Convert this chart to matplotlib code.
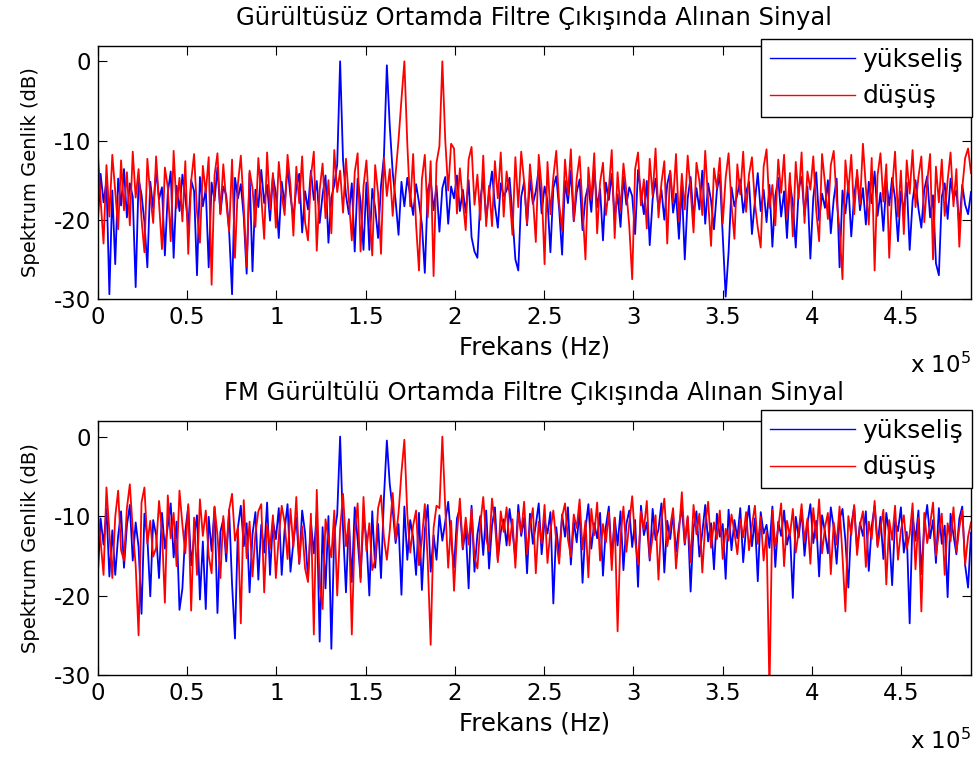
import numpy as np
import matplotlib
matplotlib.use("Agg")
import matplotlib.pyplot as plt
from matplotlib.ticker import FuncFormatter, FixedLocator

plt.rcParams["font.family"] = ["DejaVu Sans"]
plt.rcParams["axes.unicode_minus"] = False
plt.rcParams["mathtext.fontset"] = "dejavusans"

# Frequency span of the spectra (Hz)
F_MAX_HZ = 4.89e5

# Spectrum magnitude (dB), noiseless channel, rising chirp
quiet_rise = [
    -20.5, -14.2, -17.8, -15.1, -29.4, -16.3, -25.6, -14.8, -18.2, -13.6, -19.7, -15.4, -17.1, -28.5, -14.9, -16.8, -20.3, -26.0, -15.2, -18.6,
    -13.8, -17.4, -15.9, -24.5, -16.6, -13.9, -24.8, -15.7, -18.9, -14.3, -17.2, -20.8, -15.0, -16.4, -27.0, -14.6, -18.3, -16.1, -26.0, -15.3,
    -17.6, -13.4, -19.2, -15.8, -16.9, -21.4, -29.4, -14.7, -17.3, -15.5, -19.6, -26.8, -14.1, -26.5, -16.2, -18.4, -13.7, -17.9, -15.6, -20.1,
    -14.5, -16.7, -22.3, -15.2, -18.1, -13.3, -17.0, -19.8, -15.9, -14.2, -21.6, -16.4, -18.7, -13.8, -17.5, -15.1, -20.4, -16.8, -14.4, -22.9,
    -17.2, -15.6, -13.0, 0.0, -12.5, -16.9, -19.3, -15.4, -24.0, -14.8, -17.7, -23.8, -15.3, -23.8, -16.1, -18.5, -22.3, -15.7, -12.0, -0.5,
    -8.2, -14.0, -17.6, -21.9, -15.2, -18.3, -14.7, -16.9, -19.4, -15.5, -17.8, -20.6, -26.7, -16.3, -14.9, -18.8, -15.7, -21.5, -16.0, -14.6,
    -20.5, -15.8, -17.3, -14.4, -18.9, -16.2, -19.1, -15.0, -22.2, -24.0, -24.8, -17.4, -14.8, -19.9, -16.6, -13.9, -18.2, -21.0, -15.4, -17.0,
    -16.3, -14.7, -19.5, -25.0, -26.4, -17.1, -15.2, -20.7, -14.9, -18.0, -16.4, -13.6, -19.2, -15.8, -17.6, -24.1, -16.0, -14.5, -18.7, -24.4,
    -15.1, -17.9, -13.8, -20.2, -16.5, -14.9, -21.3, -17.2, -15.6, -19.0, -13.5, -18.4, -16.1, -22.6, -15.3, -17.5, -14.2, -19.7, -16.8, -20.9,
    -14.6, -18.1, -15.9, -17.0, -21.8, -13.7, -16.6, -19.3, -15.1, -23.2, -17.4, -14.8, -18.6, -16.2, -20.0, -15.5, -13.9, -19.1, -16.7, -22.4,
    -15.8, -25.0, -17.3, -14.6, -19.8, -16.0, -18.7, -13.8, -20.5, -15.4, -17.6, -21.2, -16.3, -14.3, -22.0, -29.7, -24.1, -15.9, -18.3, -16.8,
    -14.9, -19.1, -16.5, -15.2, -21.8, -17.7, -14.1, -18.9, -16.2, -20.3, -15.6, -23.4, -17.0, -14.7, -19.6, -16.4, -22.3, -15.3, -18.0, -23.5,
    -16.1, -14.6, -19.4, -15.8, -24.9, -17.2, -14.0, -20.1, -16.7, -18.5, -15.0, -21.7, -17.4, -14.8, -26.0, -16.3, -19.2, -15.5, -22.1, -17.0,
    -14.3, -18.8, -16.0, -20.6, -15.2, -17.9, -13.9, -19.5, -16.6, -21.4, -15.1, -18.2, -14.7, -17.3, -22.7, -16.4, -19.0, -15.3, -23.8, -17.6,
    -15.0, -18.6, -21.0, -16.2, -14.5, -19.7, -16.9, -25.5, -27.0, -17.1, -15.4, -19.9, -14.8, -17.4, -16.3, -20.8, -15.6, -18.1, -19.3, -16.5,
]

# Spectrum magnitude (dB), noiseless channel, falling chirp
quiet_fall = [
    -11.2, -17.5, -23.0, -13.1, -19.6, -11.8, -16.4, -21.2, -12.5, -18.8, -14.0, -20.7, -11.4, -17.2, -13.6, -19.9, -24.1, -12.3, -16.9, -20.4,
    -12.0, -17.8, -23.7, -13.4, -15.9, -22.7, -11.3, -18.5, -14.7, -20.2, -12.6, -24.3, -15.1, -11.7, -19.0, -22.9, -13.2, -16.6, -12.1, -28.2,
    -14.4, -11.6, -19.3, -13.0, -17.7, -21.5, -12.4, -24.8, -15.5, -11.9, -18.2, -25.9, -13.8, -16.0, -20.9, -12.2, -17.1, -22.4, -11.5, -18.7,
    -14.1, -21.0, -12.7, -16.8, -19.4, -11.8, -15.6, -22.0, -13.3, -17.9, -12.0, -20.3, -22.6, -14.5, -11.4, -23.9, -16.2, -12.9, -19.8, -15.0,
    -21.7, -11.2, -16.5, -13.8, -19.1, -12.3, -17.4, -22.6, -14.0, -11.6, -24.0, -15.8, -12.5, -18.9, -24.5, -13.1, -16.7, -24.3, -12.2, -17.0,
    -13.6, -19.5, -14.2, -9.9, -4.8, 0.0, -10.4, -18.3, -11.7, -20.6, -26.4, -14.9, -11.8, -19.7, -12.6, -27.1, -12.8, -10.7, 0.0, -10.0,
    -16.3, -10.4, -11.0, -19.2, -13.5, -17.6, -21.3, -12.4, -10.8, -18.1, -14.3, -20.0, -11.9, -20.8, -15.7, -20.8, -12.6, -17.3, -11.5, -19.6,
    -13.9, -16.8, -21.9, -12.1, -18.4, -11.4, -15.2, -20.5, -13.0, -17.1, -22.8, -11.8, -16.0, -25.6, -12.7, -19.3, -14.6, -11.3, -18.0, -21.4,
    -12.4, -16.9, -11.1, -20.1, -14.8, -12.0, -18.6, -25.0, -13.4, -17.5, -11.6, -21.7, -15.3, -12.8, -19.4, -16.1, -11.2, -22.3, -14.0, -18.9,
    -12.9, -16.4, -20.8, -27.5, -13.6, -11.5, -18.2, -14.9, -21.1, -12.3, -17.0, -11.0, -19.7, -15.4, -12.6, -23.0, -13.8, -17.8, -11.7, -20.2,
    -14.2, -18.7, -11.9, -16.3, -21.6, -12.8, -15.1, -19.4, -11.3, -17.6, -23.3, -13.5, -16.0, -12.2, -20.5, -14.7, -11.6, -18.1, -22.4, -13.0,
    -16.8, -11.4, -19.0, -14.3, -12.1, -17.9, -21.0, -23.5, -13.3, -11.1, -18.5, -15.6, -20.7, -12.4, -16.6, -11.8, -19.8, -14.1, -22.1, -12.7,
    -17.3, -11.5, -20.4, -13.9, -16.2, -12.0, -18.8, -22.7, -11.7, -15.4, -19.9, -13.1, -11.3, -17.6, -21.2, -27.5, -12.5, -16.5, -11.8, -19.3,
    -13.7, -18.0, -10.4, -15.9, -20.6, -12.2, -26.4, -14.4, -11.6, -17.7, -13.0, -24.8, -16.1, -11.4, -19.6, -13.8, -21.8, -12.5, -16.7, -11.2,
    -18.4, -14.6, -12.0, -20.3, -15.2, -11.7, -25.0, -13.3, -17.8, -12.4, -19.5, -15.0, -11.5, -18.3, -13.6, -23.4, -16.0, -12.2, -11.0, -14.1,
]

# Spectrum magnitude (dB), FM-interference channel, rising chirp
fm_rise = [
    -17.8, -10.3, -13.6, -9.1, -17.6, -11.8, -17.4, -12.5, -9.4, -16.5, -11.2, -8.6, -15.6, -10.8, -13.9, -22.3, -9.7, -12.7, -20.1, -10.5,
    -12.4, -17.8, -9.6, -14.1, -11.3, -8.4, -15.2, -10.7, -21.8, -19.1, -11.9, -8.8, -16.2, -12.6, -9.9, -20.5, -13.2, -21.7, -10.1, -14.4,
    -8.9, -22.2, -12.0, -10.4, -15.7, -9.2, -18.6, -25.4, -11.5, -8.7, -13.8, -10.9, -19.6, -12.3, -9.5, -18.0, -11.1, -14.6, -8.3, -17.4,
    -10.6, -12.9, -9.0, -17.4, -11.7, -8.5, -17.0, -13.3, -10.2, -16.0, -9.3, -12.1, -18.0, -10.8, -14.7, -9.6, -25.8, -11.4, -19.1, -10.0,
    -26.7, -12.2, -9.8, 0.0, -11.6, -19.6, -10.4, -18.3, -8.9, -13.0, -17.8, -10.1, -12.8, -20.0, -9.4, -16.5, -11.0, -17.8, -7.7, -0.5,
    -6.0, -9.2, -13.4, -11.0, -19.9, -8.8, -15.5, -10.5, -12.7, -17.4, -9.6, -19.3, -11.8, -8.6, -17.0, -12.4, -15.5, -9.9, -13.1, -10.7,
    -8.2, -12.9, -16.5, -10.3, -9.0, -14.2, -11.5, -19.1, -8.7, -17.0, -12.3, -10.0, -14.9, -9.3, -16.6, -11.2, -8.9, -15.5, -12.0, -10.4,
    -13.7, -9.1, -11.9, -15.3, -8.6, -12.5, -10.2, -17.2, -9.7, -13.5, -11.1, -8.4, -14.8, -10.6, -12.2, -9.5, -21.0, -11.4, -15.0, -9.8,
    -12.6, -8.9, -16.1, -10.7, -13.3, -9.2, -18.4, -11.6, -8.5, -14.1, -10.9, -12.8, -9.6, -17.5, -11.3, -8.8, -15.4, -10.2, -13.7, -9.4,
    -16.8, -11.0, -9.3, -13.9, -10.5, -18.9, -8.7, -12.4, -10.8, -15.6, -9.1, -13.0, -11.7, -8.4, -17.1, -10.6, -12.9, -9.8, -14.5, -11.3,
    -8.9, -13.6, -10.2, -19.5, -11.5, -9.4, -15.1, -12.1, -8.6, -13.2, -10.9, -16.7, -9.7, -12.6, -11.0, -17.9, -9.2, -14.3, -10.5, -12.8,
    -9.0, -15.8, -11.4, -8.7, -13.8, -10.3, -18.2, -9.5, -12.2, -11.1, -14.0, -8.8, -16.4, -10.7, -12.5, -9.3, -13.6, -11.8, -20.3, -10.1,
    -12.7, -9.2, -15.0, -11.0, -8.5, -13.4, -10.6, -17.6, -9.9, -12.0, -14.7, -8.9, -11.5, -16.0, -10.4, -9.1, -13.1, -19.0, -11.2, -8.8,
    -14.2, -10.8, -12.5, -9.4, -16.9, -11.3, -8.7, -13.7, -10.1, -15.4, -9.6, -12.3, -18.7, -10.6, -11.9, -8.9, -14.6, -12.0, -23.5, -10.0,
    -13.1, -9.3, -17.3, -11.4, -8.6, -12.8, -10.5, -15.9, -9.0, -13.5, -11.2, -20.2, -9.7, -12.4, -14.8, -10.3, -8.8, -16.2, -19.0, -12.1,
]

# Spectrum magnitude (dB), FM-interference channel, falling chirp
fm_fall = [
    -9.5, -13.2, -17.4, -6.4, -12.0, -17.8, -10.1, -6.8, -14.3, -15.6, -9.0, -6.0, -11.7, -16.2, -25.0, -8.3, -6.4, -13.5, -10.6, -15.1,
    -14.0, -8.1, -11.9, -20.9, -7.4, -12.8, -9.6, -16.3, -6.8, -11.1, -14.7, -8.5, -21.9, -10.2, -17.4, -7.9, -12.5, -9.3, -15.0, -17.2,
    -8.8, -12.4, -17.8, -10.0, -14.6, -9.2, -7.2, -13.1, -11.4, -23.5, -8.0, -15.3, -10.7, -17.6, -12.2, -9.4, -8.5, -19.6, -11.0, -14.1,
    -9.9, -17.8, -12.6, -8.7, -10.8, -15.4, -9.1, -13.9, -7.6, -16.0, -11.3, -16.6, -18.3, -9.7, -24.9, -6.7, -18.7, -21.7, -10.4, -13.0,
    -15.2, -9.3, -20.0, -11.6, -7.2, -13.8, -10.5, -24.9, -12.1, -8.4, -18.3, -7.6, -14.4, -10.9, -16.8, -15.5, -9.0, -7.4, -12.7, -15.5,
    -11.8, -7.1, -13.0, -9.6, -4.5, -0.4, -9.8, -14.6, -11.2, -9.3, -16.2, -12.9, -8.5, -15.7, -26.2, -11.5, -8.7, -9.0, 0.0, -9.0,
    -16.5, -10.6, -19.4, -12.3, -7.8, -14.0, -10.2, -13.6, -9.1, -15.2, -16.6, -11.0, -7.6, -12.8, -14.4, -7.8, -10.9, -15.8, -9.4, -12.0,
    -8.9, -13.7, -10.4, -16.5, -9.6, -12.1, -8.2, -14.8, -11.3, -9.0, -17.2, -10.7, -13.4, -8.6, -15.9, -11.8, -9.3, -13.1, -16.0, -10.1,
    -8.4, -12.9, -15.1, -9.8, -11.5, -7.9, -14.2, -10.6, -17.7, -9.1, -12.4, -8.3, -15.6, -11.0, -13.3, -9.5, -16.8, -10.2, -24.5, -12.7,
    -8.8, -14.5, -10.9, -7.5, -13.0, -16.1, -9.4, -11.7, -8.1, -15.3, -12.6, -9.9, -18.0, -10.5, -7.8, -13.8, -11.4, -9.0, -16.6, -12.2,
    -7.0, -13.4, -10.0, -15.8, -8.6, -12.3, -9.7, -17.1, -11.1, -8.2, -14.0, -10.8, -12.9, -9.3, -15.4, -11.6, -13.1, -9.8, -12.0, -14.8,
    -10.4, -12.7, -9.5, -14.3, -11.2, -8.7, -13.5, -10.1, -15.6, -12.0, -32.0, -9.2, -13.8, -11.5, -8.4, -16.3, -10.6, -12.5, -9.1, -14.6,
    -11.9, -8.5, -13.2, -10.3, -16.0, -9.0, -12.8, -7.9, -14.7, -11.4, -9.6, -17.3, -10.8, -13.6, -8.8, -15.1, -22.0, -10.0, -12.4, -8.6,
    -14.9, -11.1, -9.4, -16.4, -10.7, -12.9, -8.1, -13.9, -11.6, -9.2, -18.6, -10.5, -13.0, -8.7, -15.5, -11.8, -9.9, -14.1, -12.3, -8.4,
    -16.7, -10.2, -22.0, -9.6, -13.4, -11.0, -8.3, -15.0, -12.1, -9.7, -17.4, -10.9, -13.2, -8.9, -14.5, -11.5, -9.3, -16.1, -12.6, -10.8,
]

panel_titles = [
    "Gürültüsüz Ortamda Filtre Çıkışında Alınan Sinyal",
    "FM Gürültülü Ortamda Filtre Çıkışında Alınan Sinyal",
]
series_labels = ["yükseliş", "düşüş"]
x_tick_values_e5 = [0, 0.5, 1, 1.5, 2, 2.5, 3, 3.5, 4, 4.5]
y_tick_values = [0, -10, -20, -30]

W, H = 975, 758
fig = plt.figure(figsize=(W / 100, H / 100), dpi=100)

# axes boxes in pixel units (left, top, right, bottom)
boxes_px = [(97.7, 45.5, 971.0, 299.0), (97.7, 420.7, 971.0, 675.0)]
legend_top_px = [39.0, 410.0]

BLUE = "#0000ff"
RED = "#ff0000"
FS = 16.5


def draw_panel(ax, rise, fall, title, leg_top):
    f_rise = np.linspace(0, F_MAX_HZ, len(rise))
    f_fall = np.linspace(0, F_MAX_HZ, len(fall))
    ax.plot(f_rise, rise, color=BLUE, lw=1.3, label=series_labels[0])
    ax.plot(f_fall, fall, color=RED, lw=1.3, label=series_labels[1])

    ax.set_xlim(0, F_MAX_HZ)
    ax.set_ylim(-30, 2)
    ax.xaxis.set_major_locator(FixedLocator([v * 1e5 for v in x_tick_values_e5]))
    ax.xaxis.set_major_formatter(FuncFormatter(lambda v, p: f"{v / 1e5:g}"))
    ax.yaxis.set_major_locator(FixedLocator(y_tick_values))
    ax.yaxis.set_major_formatter(FuncFormatter(lambda v, p: f"{v:g}"))
    ax.tick_params(direction="in", top=True, right=True, length=6.5, width=0.8,
                   labelsize=FS, pad=5)
    for s in ax.spines.values():
        s.set_linewidth(1.0)

    ax.set_title(title, fontsize=17.5, pad=15)
    ax.set_xlabel("Frekans (Hz)", fontsize=17.5, labelpad=5)
    ax.set_ylabel("Spektrum Genlik (dB)", fontsize=14)
    ax.yaxis.set_label_coords(-0.066, 0.5)
    ax.text(1.0, -0.262, r"x $10^{5}$", transform=ax.transAxes, ha="right",
            va="center", fontsize=FS)

    leg = ax.legend(loc="upper right", bbox_to_anchor=(972 / W, 1 - leg_top / H),
                    bbox_transform=fig.transFigure, borderaxespad=0,
                    fontsize=18, fancybox=False, framealpha=1, edgecolor="black",
                    handlelength=3.4, handletextpad=0.3, labelspacing=0.5,
                    borderpad=0.35)
    leg.get_frame().set_linewidth(1.0)
    for ln in leg.get_lines():
        ln.set_linewidth(1.0)


series = [(quiet_rise, quiet_fall), (fm_rise, fm_fall)]
for (l, t, r, b), (rise, fall), title, lt in zip(boxes_px, series, panel_titles, legend_top_px):
    ax = fig.add_axes([l / W, 1 - b / H, (r - l) / W, (b - t) / H])
    draw_panel(ax, rise, fall, title, lt)

fig.savefig("out.png", dpi=100)
